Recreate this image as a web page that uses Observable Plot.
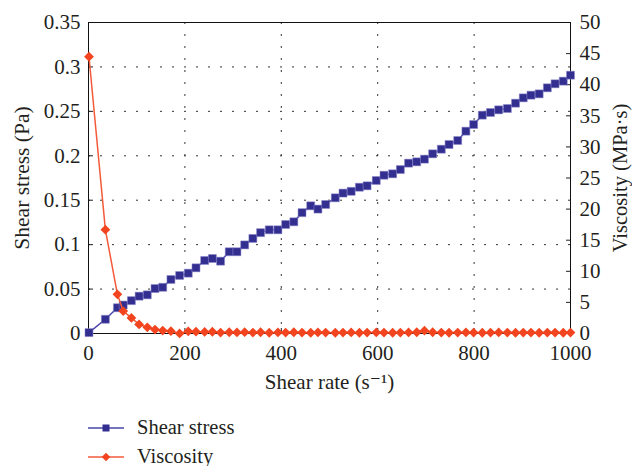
<!DOCTYPE html>
<html>
<head>
<meta charset="utf-8">
<script src="https://cdn.jsdelivr.net/npm/d3@7"></script>
<script src="https://cdn.jsdelivr.net/npm/@observablehq/plot@0.6"></script>
<style>
  body { margin: 0; background: #fff; }
  #wrap { position: relative; width: 632px; height: 466px; font-family: "Liberation Serif", "DejaVu Serif", serif; color: #231f20; }
  #legend { position: absolute; left: 88px; top: 413px; font-size: 20.5px; }
  .row { display: flex; align-items: center; height: 29px; }
  .row svg { margin-right: 13px; }
</style>
</head>
<body>
<div id="wrap"><div id="chart"></div><div id="legend"></div></div>
<script>
const shearRate = [1, 35, 60, 72, 89, 105, 122, 138, 154, 171,
  189, 207, 223, 241, 257, 274, 292, 308, 324, 341,
  357, 375, 393, 409, 426, 443, 461, 476, 492, 512,
  528, 545, 562, 578, 597, 613, 631, 647, 664, 681,
  697, 714, 732, 748, 766, 783, 799, 817, 834, 851,
  869, 886, 902, 918, 935, 952, 968, 985, 1000];
const shearStress = [0.001, 0.016, 0.029, 0.032, 0.037, 0.042, 0.0435, 0.0506, 0.052, 0.0608,
  0.0653, 0.0679, 0.0739, 0.0822, 0.0844, 0.0814, 0.092, 0.092, 0.0997, 0.107,
  0.1135, 0.1167, 0.1167, 0.1227, 0.1257, 0.136, 0.1437, 0.140, 0.1452, 0.1527,
  0.158, 0.160, 0.1646, 0.1662, 0.1722, 0.1781, 0.1797, 0.1845, 0.1917, 0.1932,
  0.1962, 0.2022, 0.2074, 0.2127, 0.2172, 0.2277, 0.2352, 0.2457, 0.2487, 0.2517,
  0.2532, 0.2592, 0.2652, 0.2682, 0.2697, 0.2765, 0.281, 0.284, 0.2907];
const viscosity = [44.5, 16.7, 6.3, 3.6, 2.5, 1.45, 1.0, 0.64, 0.48, 0.37,
  0.02, 0.35, 0.3, 0.25, 0.28, 0.15, 0.2, 0.18, 0.22, 0.15,
  0.2, 0.12, 0.18, 0.15, 0.2, 0.15, 0.12, 0.18, 0.15, 0.12,
  0.15, 0.18, 0.12, 0.15, 0.18, 0.15, 0.12, 0.15, 0.18, 0.2,
  0.45, 0.2, 0.15, 0.12, 0.15, 0.18, 0.15, 0.12, 0.15, 0.18,
  0.15, 0.12, 0.15, 0.15, 0.12, 0.15, 0.15, 0.12, 0.15];
const xTicks = [0, 200, 400, 600, 800, 1000];
const yTicks = [0, 0.05, 0.1, 0.15, 0.2, 0.25, 0.3, 0.35];
const vTicks = [0, 5, 10, 15, 20, 25, 30, 35, 40, 45, 50];
const seriesNames = ["Shear stress", "Viscosity"];
const xLabel = "Shear rate (s⁻¹)";
const yLabel = "Shear stress (Pa)";
const vLabel = "Viscosity (MPa·s)";
const colors = {stressLine: "#4a46aa", stressDot: "#332f91", viscLine: "#f35a3a", viscDot: "#f2441f"};

const k = 0.35 / 50; // viscosity -> left scale
const data = shearRate.map((x, i) => ({x, s: shearStress[i], v: viscosity[i] * k}));

const chart = Plot.plot({
  width: 632,
  height: 400,
  marginLeft: 88,
  marginRight: 62,
  marginTop: 22,
  marginBottom: 67,
  style: {fontFamily: "Liberation Serif, DejaVu Serif, serif", fontSize: "21px", color: "#231f20", background: "#fff", overflow: "visible"},
  x: {domain: [0, 1000]},
  y: {domain: [0, 0.35]},
  marks: [
    Plot.gridX(xTicks.slice(1, -1), {stroke: "#333", strokeOpacity: 1, strokeDasharray: "2,10"}),
    Plot.gridY(yTicks.slice(1, -1), {stroke: "#333", strokeOpacity: 1, strokeDasharray: "2,10"}),
    Plot.axisX(xTicks, {tickSize: -5, tickPadding: 17, tickFormat: d => String(d), label: null}),
    Plot.axisY(yTicks, {anchor: "left", tickSize: -5, tickPadding: 13, tickFormat: d => String(+d.toFixed(2)), label: null}),
    Plot.axisY(vTicks.map(v => v * k), {anchor: "right", tickSize: -5, tickPadding: 14, tickFormat: d => String(Math.round(d / k)), label: null}),
    Plot.text([xLabel], {frameAnchor: "bottom", dy: 49, textAnchor: "middle", lineAnchor: "middle", fontSize: 21}),
    Plot.text([yLabel], {frameAnchor: "left", dx: -66, rotate: -90, textAnchor: "middle", lineAnchor: "middle", fontSize: 21.5}),
    Plot.text([vLabel], {frameAnchor: "right", dx: 50, rotate: -90, textAnchor: "middle", lineAnchor: "middle", fontSize: 20.5}),
    Plot.frame({stroke: "#111"}),
    Plot.line(data, {x: "x", y: "s", stroke: colors.stressLine, strokeWidth: 1.5}),
    Plot.dot(data, {x: "x", y: "s", symbol: "square", r: 4.5, fill: colors.stressDot, stroke: "#8884c8", strokeWidth: 0.5}),
    Plot.line(data, {x: "x", y: "v", stroke: colors.viscLine, strokeWidth: 1.5}),
    Plot.dot(data, {x: "x", y: "v", symbol: "square", rotate: 45, r: 3.9, fill: colors.viscDot})
  ]
});
document.getElementById("chart").append(chart);

// legend
const legend = document.getElementById("legend");
const legendSpec = [
  {name: seriesNames[0], line: colors.stressLine, dot: colors.stressDot, diamond: false},
  {name: seriesNames[1], line: colors.viscLine, dot: colors.viscDot, diamond: true}
];
for (const s of legendSpec) {
  const row = document.createElement("div");
  row.className = "row";
  const ns = "http://www.w3.org/2000/svg";
  const svg = document.createElementNS(ns, "svg");
  svg.setAttribute("width", 36); svg.setAttribute("height", 14);
  const ln = document.createElementNS(ns, "line");
  ln.setAttribute("x1", 0); ln.setAttribute("x2", 36); ln.setAttribute("y1", 7); ln.setAttribute("y2", 7);
  ln.setAttribute("stroke", s.line); ln.setAttribute("stroke-width", 1.5);
  svg.append(ln);
  const m = document.createElementNS(ns, "rect");
  m.setAttribute("x", 14.5); m.setAttribute("y", 3.5); m.setAttribute("width", 7); m.setAttribute("height", 7);
  m.setAttribute("fill", s.dot);
  if (s.diamond) { m.setAttribute("transform", "rotate(45 18 7)"); m.setAttribute("x", 15); m.setAttribute("y", 4); m.setAttribute("width", 6); m.setAttribute("height", 6); }
  svg.append(m);
  const t = document.createElement("span");
  t.textContent = s.name;
  row.append(svg, t);
  legend.append(row);
}
</script>
</body>
</html>
